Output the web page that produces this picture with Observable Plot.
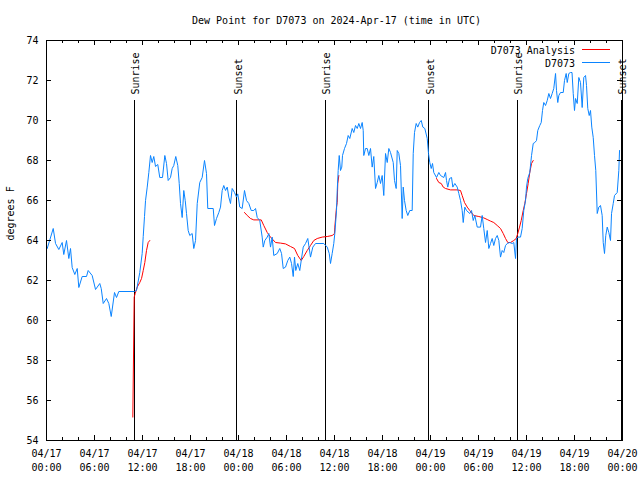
<!DOCTYPE html>
<html>
<head>
<meta charset="utf-8">
<script src="https://cdn.jsdelivr.net/npm/d3@7"></script>
<script src="https://cdn.jsdelivr.net/npm/@observablehq/plot@0.6"></script>
<style>
  html, body { margin: 0; padding: 0; background: #fff; }
  #chart svg { display: block; }
</style>
</head>
<body>
<div id="chart"></div>
<script>
// ---- Data (hours since 2024-04-17 00:00 UTC) ----
const titleText = "Dew Point for D7073 on 2024-Apr-17 (time in UTC)";
const yLabel = "degrees F";

const xTickHours = [0, 6, 12, 18, 24, 30, 36, 42, 48, 54, 60, 66, 72];
const xTickLabels = ["04/17\n00:00", "04/17\n06:00", "04/17\n12:00", "04/17\n18:00",
  "04/18\n00:00", "04/18\n06:00", "04/18\n12:00", "04/18\n18:00",
  "04/19\n00:00", "04/19\n06:00", "04/19\n12:00", "04/19\n18:00", "04/20\n00:00"];
const xMinorHours = [2, 4, 8, 10, 14, 16, 20, 22, 26, 28, 32, 34, 38, 40, 44, 46, 50, 52, 56, 58, 62, 64, 68, 70];
const yTicks = [54, 56, 58, 60, 62, 64, 66, 68, 70, 72, 74];

const sunHours = [11.0, 23.8, 34.9, 47.8, 58.9, 71.85];
const sunLabels = ["Sunrise", "Sunset", "Sunrise", "Sunset", "Sunrise", "Sunset"];

const legendLabels = ["D7073 Analysis", "D7073"];
const legendColors = ["#ff0000", "#0a84ff"];

// D7073 observations
const obsHours = [0.09, 0.84, 1.13, 1.54, 1.96, 2.16, 2.5, 2.79, 3.0, 3.21, 3.54, 3.84, 4.04, 4.46, 5.0, 5.21, 5.71,
  6.13, 6.66, 6.84, 7.09, 7.5, 7.79, 8.09, 8.5, 8.75, 9.04, 11.0,
  11.25, 11.66, 11.96, 12.09, 12.25, 12.38, 12.59, 12.79, 13.0, 13.21, 13.41, 13.63, 13.91, 14.16, 14.5, 14.79,
  15.0, 15.21, 15.5, 15.71, 15.91, 16.16, 16.41, 16.59, 16.75, 16.96, 17.16, 17.34, 17.5, 17.71, 17.91, 18.21,
  18.41, 18.63, 18.84, 19.16, 19.46, 19.75, 20.0, 20.16, 20.84, 21.0, 21.25, 21.54, 21.75,
  21.96, 22.16, 22.38, 22.59, 22.79, 23.0, 23.21, 23.5, 23.75, 23.91, 24.16, 24.46, 24.75, 25.0, 25.29, 25.59,
  25.91, 26.13, 26.34, 26.66, 26.96, 27.09, 27.29, 27.59, 27.79, 28.0, 28.21, 28.41, 28.84, 29.16, 29.38, 29.59,
  29.88, 30.16, 30.41, 30.63, 30.84, 31.0, 31.16, 31.41, 31.66, 31.84, 32.09, 32.38, 32.66, 33.0, 33.29, 33.63,
  34.66, 35.09, 35.34, 35.5, 35.71, 35.91, 36.04, 36.25, 36.34, 36.46, 36.59, 36.75, 36.91, 37.0, 37.25, 37.5,
  37.71, 37.91, 38.21, 38.41, 38.63, 38.84, 39.04, 39.25, 39.46, 39.59, 39.66, 39.88, 40.09, 40.29, 40.5, 40.71,
  40.91, 41.13, 41.34, 41.54, 41.75, 41.96, 42.16, 42.38, 42.59, 42.79, 43.0, 43.34, 43.5, 43.71, 43.84, 44.04,
  44.25, 44.46, 44.59, 44.75, 44.96, 45.16, 45.41, 45.71, 45.84, 46.0, 46.21, 46.41, 46.63, 46.84, 47.04, 47.29,
  47.59, 47.75, 47.91, 48.09, 48.25, 48.41, 48.75, 49.04, 49.25, 49.66, 49.88, 50.0, 50.16, 50.38, 50.63, 50.79,
  51.04, 51.34, 51.54, 51.75, 51.96, 52.09, 52.29, 52.5, 52.91, 53.13, 53.34, 53.54, 53.84, 54.25, 54.46, 54.66,
  54.88, 55.09, 55.29, 55.5, 55.71, 55.91, 56.13, 56.34, 56.54, 56.75, 56.96, 57.16, 57.38, 57.59, 57.91, 58.21,
  58.41, 58.63, 58.75, 58.91, 59.25, 59.46, 59.66, 59.88, 60.0, 60.16, 60.41, 60.63, 60.84, 61.04, 61.25, 61.41,
  61.66, 61.84, 62.0, 62.16, 62.38, 62.59, 62.79, 63.0, 63.21, 63.41, 63.63, 63.75, 63.91, 64.04, 64.25, 64.59,
  64.75, 64.96, 65.09, 65.29, 65.5, 65.69, 65.84, 66.0, 66.13, 66.34, 66.54, 66.75, 66.96, 67.16, 67.38, 67.5,
  67.66, 67.84, 68.0, 68.16, 68.34, 68.5, 68.66, 68.84, 69.04, 69.25, 69.46, 69.59, 69.75, 69.91, 70.09, 70.29,
  70.5, 70.63, 70.84, 71.0, 71.34, 71.54, 71.63];
const obsValues = [63.6, 64.6, 63.85, 63.55, 63.9, 63.3, 64.0, 63.1, 63.6, 62.65, 62.3, 62.6, 61.65, 62.2, 62.2, 62.5, 62.25,
  61.55, 61.85, 61.6, 60.85, 61.1, 60.85, 60.2, 61.4, 61.15, 61.45, 61.45,
  61.5, 62.4, 63.35, 64.2, 65.2, 66.0, 66.67, 67.4, 68.25, 67.9, 68.2, 67.7, 67.8, 67.15, 67.15, 68.25,
  67.85, 67.0, 67.15, 67.6, 67.75, 68.2, 67.75, 66.85, 65.85, 65.15, 66.5, 66.0, 65.35, 64.5, 64.25, 64.35,
  63.6, 64.0, 65.85, 66.9, 67.15, 68.0, 67.35, 65.6, 65.6, 64.75, 65.1, 65.4, 65.67,
  66.5, 66.75, 66.5, 66.67, 66.17, 65.85, 66.6, 66.4, 66.17, 66.33, 65.67, 65.6, 66.5, 66.0, 65.85, 65.5,
  65.5, 65.6, 65.15, 65.0, 64.17, 63.67, 64.0, 64.17, 64.35, 63.67, 64.17, 63.25, 63.35, 63.6, 63.35, 62.6,
  62.67, 63.0, 63.17, 62.85, 62.2, 63.17, 62.5, 62.85, 62.5, 63.0, 63.67, 63.85, 64.1, 63.17, 63.67, 63.85,
  63.85, 63.67, 63.35, 62.85, 63.35, 63.85, 64.35, 65.5, 66.5, 67.5, 68.25, 67.5, 67.67, 68.25, 68.6, 68.85,
  69.25, 69.1, 69.6, 69.4, 69.75, 69.6, 69.85, 69.6, 69.9, 69.5, 68.25, 68.6, 68.6, 68.25, 68.6, 67.67,
  68.2, 66.6, 66.9, 67.25, 66.85, 67.25, 66.25, 68.35, 67.9, 68.6, 68.4, 67.9, 67.0, 66.6, 68.5, 68.35,
  67.75, 65.1, 66.67, 66.0, 65.5, 65.25, 65.5, 65.5, 68.35, 69.4, 69.85, 69.67, 69.9, 70.0, 69.67, 69.6,
  69.1, 68.35, 67.9, 67.6, 67.85, 67.4, 67.15, 67.4, 67.25, 67.15, 67.4, 67.0, 66.67, 67.1, 67.15, 66.67,
  66.85, 66.67, 66.35, 66.0, 65.5, 64.9, 65.67, 65.5, 65.35, 65.5, 65.0, 65.25, 64.67, 64.67, 65.25, 64.6,
  63.9, 64.5, 63.6, 63.85, 64.1, 63.75, 64.1, 64.25, 64.0, 63.17, 63.5, 63.4, 63.75, 63.85, 63.9, 63.85,
  63.9, 63.1, 64.1, 64.17, 64.17, 64.6, 65.5, 66.0, 66.67, 67.1, 67.4, 68.25, 68.85, 68.9, 69.0, 69.5,
  69.75, 69.9, 70.5, 70.9, 70.75, 71.0, 71.35, 71.1, 71.35, 71.6, 72.35, 71.5, 70.9, 71.25, 71.4, 71.4,
  72.0, 72.35, 71.9, 72.35, 72.4, 72.4, 71.35, 70.5, 71.1, 70.85, 72.15, 71.9, 70.65, 72.15, 72.25, 71.75,
  70.6, 70.25, 70.5, 69.67, 69.15, 68.25, 67.5, 65.35, 65.67, 65.75, 65.25, 63.9, 63.35, 64.25, 64.67, 64.4,
  64.0, 65.35, 65.85, 66.25, 66.4, 67.5, 68.5];

// D7073 Analysis (three separate runs)
const an1Hours = [10.79, 10.96, 11.09, 11.34, 11.66, 11.88, 12.09, 12.29, 12.5, 12.71, 12.91];
const an1Values = [55.17, 61.17, 61.35, 61.67, 61.9, 62.1, 62.5, 62.9, 63.5, 63.9, 64.0];
const an2Hours = [24.75, 25.09, 25.5, 25.91, 26.84, 27.16, 27.59, 28.0, 28.63, 29.25, 29.88, 30.5, 31.0, 31.41,
  31.84, 32.16, 32.59, 33.0, 33.41, 33.84, 34.46, 35.09, 35.71, 36.0, 36.04, 36.25, 36.34, 36.41, 36.54];
const an2Values = [65.4, 65.25, 65.1, 65.03, 65.03, 64.75, 64.4, 64.17, 63.9, 63.87, 63.83, 63.7, 63.6, 63.25,
  63.0, 63.2, 63.5, 63.75, 64.0, 64.1, 64.17, 64.2, 64.25, 64.35, 64.67, 65.67, 65.9, 66.85, 67.25];
const an3Hours = [48.75, 49.04, 49.34, 49.59, 49.88, 50.5, 51.34, 51.75, 51.96, 52.25, 52.59, 52.91, 53.41, 54.04,
  54.66, 55.09, 55.5, 55.91, 56.34, 56.75, 57.09, 57.38, 57.66, 58.0, 58.41, 58.71, 58.91, 59.13, 59.34, 59.59,
  59.79, 60.0, 60.21, 60.41, 60.63, 60.84];
const an3Values = [67.1, 66.9, 66.85, 66.67, 66.6, 66.53, 66.53, 66.5, 66.25, 65.9, 65.67, 65.5, 65.25, 65.2,
  65.13, 65.05, 64.97, 64.9, 64.75, 64.6, 64.35, 64.1, 63.9, 63.9, 64.0, 64.1, 64.35, 64.67, 65.0, 65.5,
  65.85, 66.35, 66.85, 67.4, 67.85, 68.0];

// ---- Chart ----
const FONT = "'DejaVu Sans Mono', 'Liberation Mono', monospace";

function legendMark(index, scales, values, dims) {
  const g = d3.create("svg:g").attr("font-family", FONT).attr("font-size", 10);
  const xr = dims.width - dims.marginRight;
  legendLabels.forEach((label, i) => {
    const y = dims.marginTop + 10 + i * 13;
    g.append("text").attr("x", xr - 47).attr("y", y).attr("dy", "0.35em")
      .attr("text-anchor", "end").attr("fill", "black").text(label);
    g.append("line").attr("x1", xr - 40).attr("x2", xr - 12).attr("y1", y - 0.5).attr("y2", y - 0.5)
      .attr("stroke", legendColors[i]).attr("stroke-width", 1).attr("shape-rendering", "crispEdges");
  });
  return g.node();
}

const chart = Plot.plot({
  width: 640,
  height: 480,
  marginTop: 40,
  marginBottom: 40,
  marginLeft: 46,
  marginRight: 18,
  style: { fontFamily: FONT, fontSize: "10px", background: "white", color: "black" },
  x: { domain: [0, 72] },
  y: { domain: [54, 74] },
  marks: [
    // sunrise / sunset markers
    Plot.ruleX(sunHours, { x: d => d, insetTop: 60, stroke: "black", strokeWidth: 1, shapeRendering: "crispEdges" }),
    Plot.text(sunHours, { x: d => d, text: (d, i) => sunLabels[i], frameAnchor: "top", dy: 54, dx: 1.5,
      rotate: -90, textAnchor: "start", lineAnchor: "middle", fill: "black" }),
    // analysis (red)
    Plot.line(an1Hours, { x: an1Hours, y: an1Values, stroke: legendColors[0], strokeWidth: 1 }),
    Plot.line(an2Hours, { x: an2Hours, y: an2Values, stroke: legendColors[0], strokeWidth: 1 }),
    Plot.line(an3Hours, { x: an3Hours, y: an3Values, stroke: legendColors[0], strokeWidth: 1 }),
    // observations (blue)
    Plot.line(obsHours, { x: obsHours, y: obsValues, stroke: legendColors[1], strokeWidth: 1 }),
    // frame and inward ticks
    Plot.frame({ stroke: "black", shapeRendering: "crispEdges" }),
    Plot.tickX(xTickHours, { x: d => d, insetTop: 395, stroke: "black", shapeRendering: "crispEdges" }),
    Plot.tickX(xTickHours, { x: d => d, insetBottom: 395, stroke: "black", shapeRendering: "crispEdges" }),
    Plot.tickX(xMinorHours, { x: d => d, insetTop: 397, stroke: "black", shapeRendering: "crispEdges" }),
    Plot.tickX(xMinorHours, { x: d => d, insetBottom: 397, stroke: "black", shapeRendering: "crispEdges" }),
    Plot.tickY(yTicks, { y: d => d, insetLeft: 571, stroke: "black", shapeRendering: "crispEdges" }),
    Plot.tickY(yTicks, { y: d => d, insetRight: 571, stroke: "black", shapeRendering: "crispEdges" }),
    // axes labels
    Plot.axisX(xTickHours, { tickSize: 0, tickPadding: 7, lineHeight: 1.4,
      tickFormat: d => xTickLabels[xTickHours.indexOf(d)], label: null }),
    Plot.axisY(yTicks, { tickSize: 0, tickPadding: 8, label: null }),
    Plot.text([yLabel], { frameAnchor: "left", dx: -36, rotate: -90, lineAnchor: "middle", fill: "black" }),
    Plot.text([titleText], { frameAnchor: "top", dy: -20, dx: 2, lineAnchor: "middle", fill: "black" }),
    legendMark
  ]
});

document.getElementById("chart").appendChild(chart);
</script>
</body>
</html>
